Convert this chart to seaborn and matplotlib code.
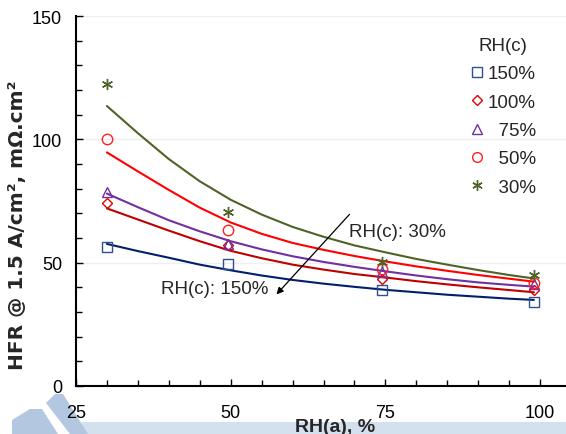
import matplotlib
matplotlib.use('Agg')
import matplotlib.pyplot as plt
import seaborn as sns
from matplotlib.lines import Line2D
from matplotlib.patches import Polygon
from matplotlib.ticker import MultipleLocator

# measured HFR points (x = anode RH)
rh_a = [30, 49.5, 74.5, 99]
hfr_150 = [56.2, 49.3, 39.0, 33.9]
hfr_100 = [74.2, 57.0, 43.4, 39.0]
hfr_75 = [78.8, 57.5, 46.3, 41.5]
hfr_50 = [100.1, 63.1, 47.4, 41.8]
hfr_30 = [122.4, 70.7, 50.1, 45.0]

# model curves
fit_x = [30, 35, 40, 45, 50, 55, 60, 65, 70, 75, 80, 85, 90, 95, 99]
fit_150 = [57.6, 54.7, 52.0, 49.2, 46.9, 44.8, 43.0, 41.5, 40.2, 39.0, 38.0, 37.0, 36.2, 35.4, 34.9]
fit_100 = [72.0, 67.5, 63.0, 58.7, 54.8, 51.8, 49.2, 47.2, 45.4, 44.0, 42.5, 41.2, 40.0, 38.9, 38.0]
fit_75 = [78.0, 72.5, 67.2, 62.7, 58.7, 55.4, 52.6, 50.3, 48.3, 46.5, 44.8, 43.3, 42.0, 41.0, 40.3]
fit_50 = [94.7, 87.0, 79.5, 72.3, 66.3, 61.7, 58.0, 55.2, 52.7, 50.5, 48.5, 46.7, 45.0, 43.5, 42.3]
fit_30 = [113.5, 102.5, 92.0, 83.0, 75.5, 69.5, 64.5, 60.5, 57.0, 54.2, 51.5, 49.2, 47.0, 45.0, 43.6]

labels = ['150%', '100%', '  75%', '  50%', '  30%']
markers = ['s', 'D', '^', 'o', (6, 2, 0)]
marker_colors = ['#2F4F8F', '#E00000', '#7030A0', '#FF2020', '#4F6228']
line_colors = ['#00206B', '#C00000', '#7030A0', '#FF0000', '#4F6228']
marker_sizes = [7, 5.5, 7, 7.5, 8]

sns.set_theme(style='white')
plt.rcParams['font.family'] = ['Liberation Sans', 'DejaVu Sans']

fig = plt.figure(figsize=(5.66, 4.35), dpi=100)

# faint watermark shapes at the bottom (behind everything)
def fig_poly(pts, color):
    p = Polygon([(x / 566, 1 - y / 435) for x, y in pts], closed=True,
                transform=fig.transFigure, color=color, zorder=-5, lw=0)
    fig.patches.append(p)

fig_poly([(82, 423), (566, 423), (566, 435), (78, 435)], '#D3E0EE')
fig_poly([(12, 435), (12, 421), (30, 410), (42, 410), (58, 435)], '#B3C8E0')
fig_poly([(46, 404), (55, 395), (63, 395), (88, 435), (70, 435)], '#B3C8E0')

ax = fig.add_axes([76 / 566, 1 - 387 / 435, 495 / 566, 370 / 435])
ax.patch.set_alpha(0)

points = [hfr_150, hfr_100, hfr_75, hfr_50, hfr_30]
fits = [fit_150, fit_100, fit_75, fit_50, fit_30]

for i in range(5):
    sns.lineplot(x=fit_x, y=fits[i], color=line_colors[i], lw=1.5, ax=ax)
    sns.lineplot(x=rh_a, y=points[i], color=marker_colors[i], linestyle='', marker=markers[i],
                 markersize=marker_sizes[i], markerfacecolor='none',
                 markeredgecolor=marker_colors[i], markeredgewidth=1.0, ax=ax)

ax.set_xlim(25, 105)
ax.set_ylim(0, 150)
ax.xaxis.set_major_locator(MultipleLocator(25))
ax.xaxis.set_minor_locator(MultipleLocator(5))
ax.yaxis.set_major_locator(MultipleLocator(50))
ax.yaxis.set_minor_locator(MultipleLocator(10))
ax.tick_params(which='both', direction='in', labelsize=13, colors='black', left=True, bottom=True)
ax.tick_params(which='major', length=5, width=1)
ax.tick_params(which='minor', length=4, width=1)
ax.tick_params(axis='y', pad=10)
ax.tick_params(axis='x', pad=13)
ax.set_xticks([25, 50, 75, 100])
ax.set_xticklabels(['25', '50', '75', '100'])

ax.yaxis.grid(True, which='major', color='#EFEFEF', lw=1)
ax.set_axisbelow(True)
for s in ['top', 'right']:
    ax.spines[s].set_visible(False)
for s in ['left', 'bottom']:
    ax.spines[s].set_color('black')
    ax.spines[s].set_linewidth(1.5)

ax.set_xlabel('RH(a), %', fontsize=14, fontweight='bold')
ax.xaxis.set_label_coords((335 - 76) / 495, (387 - 428) / 370)
ax.xaxis.label.set_va('center')
ax.set_ylabel('HFR @ 1.5 A/cm², mΩ.cm²', fontsize=14.5, fontweight='bold', family='DejaVu Sans')
ax.yaxis.set_label_coords((18 - 76) / 495, (387 - 225) / 370)
ax.yaxis.label.set_va('center')

ax.annotate('', xy=(57.1, 36.3), xytext=(69.5, 70.4),
            arrowprops=dict(arrowstyle='-|>', color='black', lw=0.9, mutation_scale=10))
ax.text(69.2, 62.5, 'RH(c): 30%', fontsize=13.5, va='center', ha='left')
ax.text(38.8, 39.6, 'RH(c): 150%', fontsize=13.5, va='center', ha='left')

handles = [Line2D([], [], linestyle='', marker=markers[i], markersize=marker_sizes[i] - 0.5,
                  markerfacecolor='none', markeredgecolor=marker_colors[i], markeredgewidth=1.0)
           for i in range(5)]
leg = ax.legend(handles, labels, title='RH(c)', frameon=False, fontsize=13.5, title_fontsize=13.5,
                loc='upper left', bbox_to_anchor=((470 - 76) / 495, (387 - 38) / 370), handlelength=0.7,
                handletextpad=0.25, labelspacing=0.6, borderaxespad=0, borderpad=0)

fig.savefig('out.png', dpi=100)
